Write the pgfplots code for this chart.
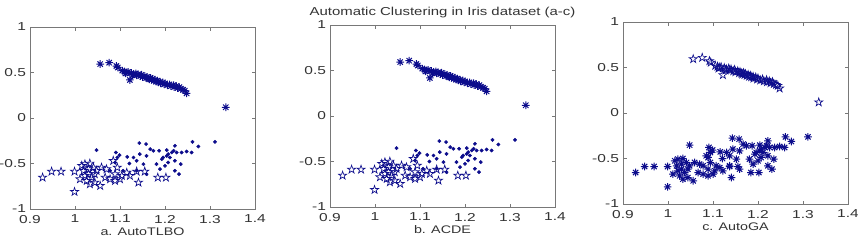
\documentclass[border=0pt]{standalone}
\usepackage{fontspec}
\setmainfont{Liberation Sans}[FakeStretch=1.3]
\newfontfamily\tickfont{Liberation Sans}[FakeStretch=1.35]
\usepackage{pgfplots}
\usepackage{pgfplotstable}
\pgfplotsset{compat=1.18}
\definecolor{mk}{RGB}{12,12,140}
\definecolor{ax}{RGB}{120,120,120}

\pgfdeclareplotmark{pentagram}{%
 \pgfpathmoveto{\pgfqpointpolar{90}{\pgfplotmarksize}}%
 \pgfpathlineto{\pgfqpointpolar{126}{0.382\pgfplotmarksize}}%
 \pgfpathlineto{\pgfqpointpolar{162}{\pgfplotmarksize}}%
 \pgfpathlineto{\pgfqpointpolar{198}{0.382\pgfplotmarksize}}%
 \pgfpathlineto{\pgfqpointpolar{234}{\pgfplotmarksize}}%
 \pgfpathlineto{\pgfqpointpolar{270}{0.382\pgfplotmarksize}}%
 \pgfpathlineto{\pgfqpointpolar{306}{\pgfplotmarksize}}%
 \pgfpathlineto{\pgfqpointpolar{342}{0.382\pgfplotmarksize}}%
 \pgfpathlineto{\pgfqpointpolar{18}{\pgfplotmarksize}}%
 \pgfpathlineto{\pgfqpointpolar{54}{0.382\pgfplotmarksize}}%
 \pgfpathclose\pgfusepathqstroke}

\pgfdeclareplotmark{mast}{%
 \pgfpathmoveto{\pgfqpoint{-\pgfplotmarksize}{0pt}}\pgfpathlineto{\pgfqpoint{\pgfplotmarksize}{0pt}}%
 \pgfpathmoveto{\pgfqpoint{0pt}{-\pgfplotmarksize}}\pgfpathlineto{\pgfqpoint{0pt}{\pgfplotmarksize}}%
 \pgfpathmoveto{\pgfqpoint{-0.7\pgfplotmarksize}{-0.7\pgfplotmarksize}}\pgfpathlineto{\pgfqpoint{0.7\pgfplotmarksize}{0.7\pgfplotmarksize}}%
 \pgfpathmoveto{\pgfqpoint{-0.7\pgfplotmarksize}{0.7\pgfplotmarksize}}\pgfpathlineto{\pgfqpoint{0.7\pgfplotmarksize}{-0.7\pgfplotmarksize}}%
 \pgfusepathqstroke}

\pgfplotstableread{
x y
1.056 0.593
1.076 0.608
1.092 0.571
1.095 0.555
1.105 0.520
1.110 0.510
1.112 0.490
1.115 0.500
1.118 0.505
1.122 0.418
1.125 0.495
1.128 0.470
1.130 0.480
1.135 0.490
1.137 0.470
1.140 0.480
1.145 0.460
1.148 0.475
1.150 0.450
1.155 0.460
1.158 0.440
1.160 0.450
1.163 0.436
1.165 0.425
1.168 0.440
1.170 0.420
1.172 0.430
1.175 0.410
1.178 0.420
1.180 0.400
1.183 0.410
1.185 0.395
1.189 0.399
1.190 0.380
1.195 0.390
1.198 0.370
1.200 0.380
1.205 0.360
1.210 0.370
1.213 0.350
1.219 0.362
1.220 0.340
1.225 0.350
1.228 0.330
1.232 0.340
1.235 0.320
1.240 0.310
1.244 0.300
1.248 0.271
1.335 0.118
}\topc

\pgfplotstableread{
x y
0.928 -0.654
0.948 -0.588
0.969 -0.588
0.999 -0.588
0.999 -0.811
1.011 -0.672
1.015 -0.525
1.019 -0.580
1.022 -0.507
1.022 -0.635
1.026 -0.690
1.030 -0.617
1.030 -0.562
1.033 -0.500
1.033 -0.727
1.037 -0.654
1.041 -0.544
1.044 -0.709
1.044 -0.617
1.048 -0.580
1.056 -0.745
1.059 -0.544
1.067 -0.654
1.070 -0.562
1.078 -0.672
1.085 -0.470
1.089 -0.617
1.089 -0.690
1.094 -0.544
1.100 -0.672
1.104 -0.635
1.115 -0.600
1.122 -0.635
1.137 -0.588
1.141 -0.709
1.155 -0.588
1.184 -0.654
1.202 -0.654
}\clB

\pgfplotstableread{
x y
1.048 -0.353
1.078 -0.580
1.089 -0.489
1.091 -0.379
1.094 -0.434
1.099 -0.408
1.107 -0.580
1.116 -0.427
1.121 -0.500
1.130 -0.434
1.137 -0.470
1.137 -0.580
1.143 -0.276
1.144 -0.397
1.152 -0.507
1.158 -0.287
1.159 -0.416
1.159 -0.617
1.167 -0.342
1.174 -0.360
1.181 -0.507
1.187 -0.360
1.189 -0.562
1.193 -0.452
1.196 -0.434
1.200 -0.525
1.204 -0.353
1.204 -0.416
1.207 -0.397
1.207 -0.489
1.211 -0.434
1.215 -0.379
1.219 -0.360
1.222 -0.306
1.222 -0.470
1.222 -0.580
1.226 -0.379
1.231 -0.617
1.235 -0.507
1.237 -0.379
1.248 -0.368
1.259 -0.379
1.261 -0.262
1.274 -0.313
1.311 -0.262
}\clC

\pgfplotsset{
  panel/.style={
    scale only axis, width=225pt, height=182pt, anchor=south west,
    xmin=0.9, xmax=1.4, ymin=-1, ymax=1,
    xtick={0.9,1,1.1,1.2,1.3,1.4}, xticklabels={0.9,1,1.1,1.2,1.3,1.4},
    ytick={-1,-0.5,0,0.5,1}, yticklabels={-1,-0.5,0,0.5,1},
    tick align=inside, major tick length=3.5pt,
    tick style={ax, line width=0.8pt},
    axis line style={ax, line width=1pt},
    ticklabel style={font=\fontsize{11.5}{13}\tickfont, text=black!80},
    yticklabel style={xshift=-0.5pt},
    xticklabel style={yshift=-2.5pt},
    xlabel style={font=\fontsize{11}{13}\selectfont, at={(0.5,0)}, anchor=center, yshift=-23pt, text=black!80},
    every axis title shift=0pt,
    title style={font=\fontsize{11.5}{13}\selectfont, at={(0.5,1)}, anchor=center, yshift=12pt, text=black!80},
    clip=false,
  },
  pg/.style={only marks, mk, mark=pentagram, mark size=4.3pt, mark options={line width=0.65pt}},
  as/.style={only marks, mk, mark=mast, mark size=3.8pt, mark options={line width=1pt}},
  dt/.style={only marks, mk, mark=*, mark size=1.7pt},
}

\begin{document}
\begin{tikzpicture}[x=1pt,y=1pt]
\useasboundingbox (0,0) rectangle (858,241);
\begin{axis}[panel, at={(30pt,32pt)}, xlabel={a. AutoTLBO}]
\addplot[as] table {\topc};
\addplot[pg] table {\clB};
\addplot[dt] table {\clC};
\end{axis}
\begin{axis}[panel, at={(330pt,34pt)}, xlabel={b. ACDE}, title={Automatic Clustering in Iris dataset (a-c)}]
\addplot[as] table {\topc};
\addplot[pg] table {\clB};
\addplot[dt] table {\clC};
\end{axis}
\begin{axis}[panel, at={(623pt,37pt)}, xlabel={c. AutoGA}]
\addplot[pg] table {\topc};
\addplot[as] table {\clB};
\addplot[as] table {\clC};
\end{axis}
\end{tikzpicture}
\end{document}
